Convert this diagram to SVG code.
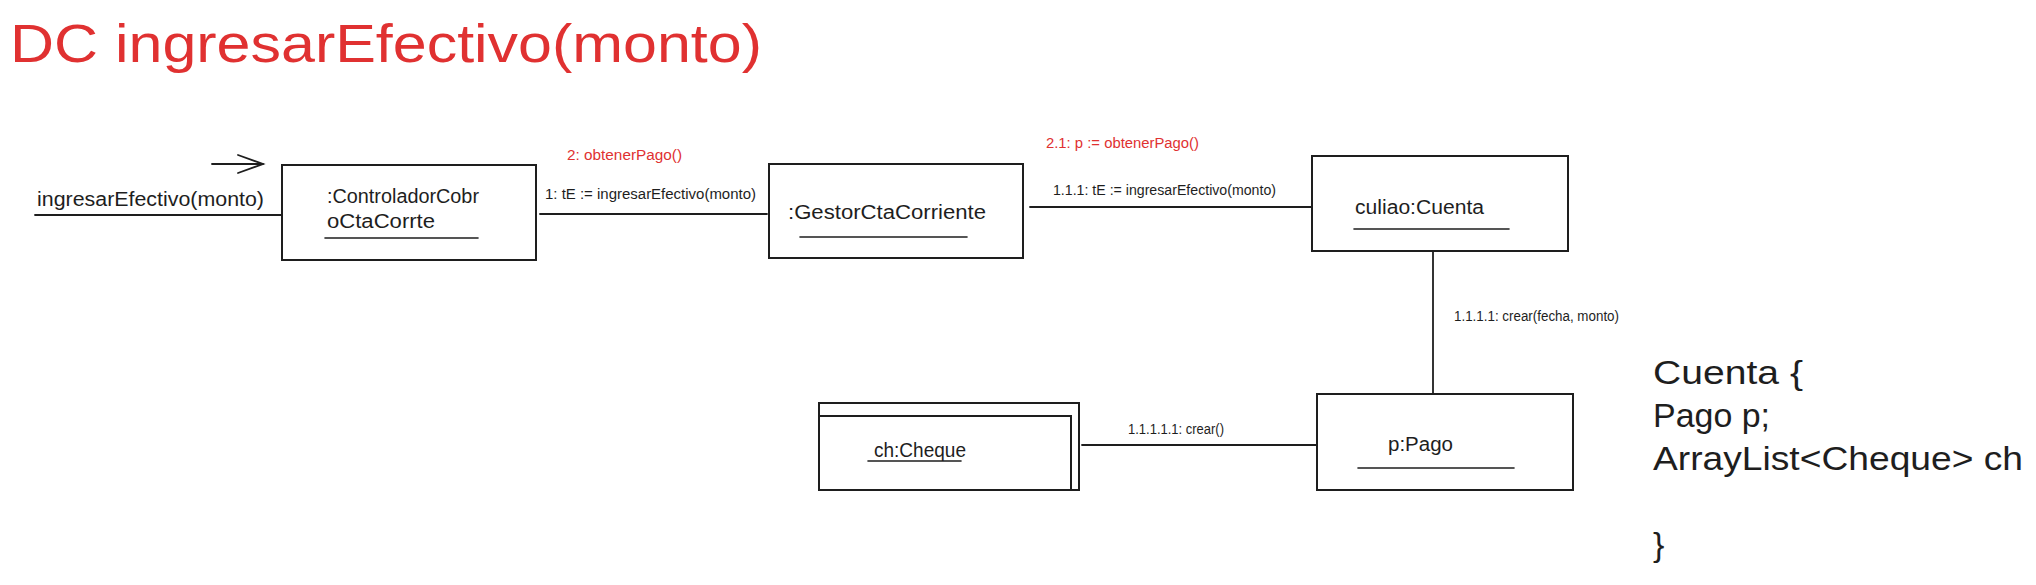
<svg xmlns="http://www.w3.org/2000/svg" width="2036" height="585" viewBox="0 0 2036 585">
<style>
.bg{fill:#ffffff}
.box{fill:none;stroke:#1e1e1e;stroke-width:2}
.ln{fill:none;stroke:#1e1e1e;stroke-width:1.8;stroke-linecap:round}
.ul{fill:none;stroke:#1e1e1e;stroke-width:1.6;stroke-linecap:round}
text{font-family:"Liberation Sans",Arial,sans-serif;fill:#1e1e1e}
.title{font-size:54px;fill:#e03131}
.node{font-size:20px}
.lbl{font-size:14px}
.red{font-size:14px;fill:#e03131}
.code{font-size:34px}
</style>
<rect class="bg" x="0" y="0" width="2036" height="585"/>
<text class="title" x="10" y="62" textLength="752" lengthAdjust="spacingAndGlyphs">DC ingresarEfectivo(monto)</text>

<g id="connectors">
  <g id="entry">
    <line class="ln" x1="212" y1="164" x2="263" y2="164"/>
    <polyline class="ln" points="238,155 263,164 238,173"/>
    <line class="ln" x1="35" y1="215" x2="282" y2="215"/>
    <text class="node" x="37" y="206" textLength="227" lengthAdjust="spacingAndGlyphs">ingresarEfectivo(monto)</text>
  </g>
  <g id="c1">
    <line class="ln" x1="540" y1="214" x2="767" y2="214"/>
    <text class="lbl" x="545" y="199" textLength="211" lengthAdjust="spacingAndGlyphs">1: tE := ingresarEfectivo(monto)</text>
    <text class="red" x="567" y="160" textLength="115" lengthAdjust="spacingAndGlyphs">2: obtenerPago()</text>
  </g>
  <g id="c2">
    <line class="ln" x1="1030" y1="207" x2="1312" y2="207"/>
    <text class="lbl" x="1053" y="195" textLength="223" lengthAdjust="spacingAndGlyphs">1.1.1: tE := ingresarEfectivo(monto)</text>
    <text class="red" x="1046" y="148" textLength="153" lengthAdjust="spacingAndGlyphs">2.1: p := obtenerPago()</text>
  </g>
  <g id="c3">
    <line class="ln" x1="1433" y1="251" x2="1433" y2="394"/>
    <text class="lbl" x="1454" y="321" textLength="165" lengthAdjust="spacingAndGlyphs">1.1.1.1: crear(fecha, monto)</text>
  </g>
  <g id="c4">
    <line class="ln" x1="1082" y1="445" x2="1317" y2="445"/>
    <text class="lbl" x="1128" y="434" textLength="96" lengthAdjust="spacingAndGlyphs">1.1.1.1.1: crear()</text>
  </g>
</g>

<g id="controlador">
  <rect class="box" x="282" y="165" width="254" height="95"/>
  <text class="node" x="327" y="203" textLength="152" lengthAdjust="spacingAndGlyphs">:ControladorCobr</text>
  <text class="node" x="327" y="228" textLength="108" lengthAdjust="spacingAndGlyphs">oCtaCorrte</text>
  <line class="ul" x1="325" y1="238" x2="478" y2="238"/>
</g>

<g id="gestor">
  <rect class="box" x="769" y="164" width="254" height="94"/>
  <text class="node" x="788" y="219" textLength="198" lengthAdjust="spacingAndGlyphs">:GestorCtaCorriente</text>
  <line class="ul" x1="800" y1="237" x2="967" y2="237"/>
</g>

<g id="cuenta">
  <rect class="box" x="1312" y="156" width="256" height="95"/>
  <text class="node" x="1355" y="214" textLength="129" lengthAdjust="spacingAndGlyphs">culiao:Cuenta</text>
  <line class="ul" x1="1354" y1="229" x2="1509" y2="229"/>
</g>

<g id="pago">
  <rect class="box" x="1317" y="394" width="256" height="96"/>
  <text class="node" x="1388" y="451" textLength="65" lengthAdjust="spacingAndGlyphs">p:Pago</text>
  <line class="ul" x1="1358" y1="468" x2="1514" y2="468"/>
</g>

<g id="cheque">
  <rect class="box" x="819" y="403" width="260" height="87"/>
  <rect class="box" x="819" y="416" width="252" height="74"/>
  <text class="node" x="874" y="457" textLength="92" lengthAdjust="spacingAndGlyphs">ch:Cheque</text>
  <line class="ul" x1="868" y1="461" x2="961" y2="461"/>
</g>

<g id="codigo">
  <text class="code" x="1653" y="384" textLength="150" lengthAdjust="spacingAndGlyphs">Cuenta {</text>
  <text class="code" x="1653" y="427" textLength="117" lengthAdjust="spacingAndGlyphs">Pago p;</text>
  <text class="code" x="1653" y="470" textLength="370" lengthAdjust="spacingAndGlyphs">ArrayList&lt;Cheque&gt; ch</text>
  <text class="code" x="1653" y="556">}</text>
</g>
</svg>
